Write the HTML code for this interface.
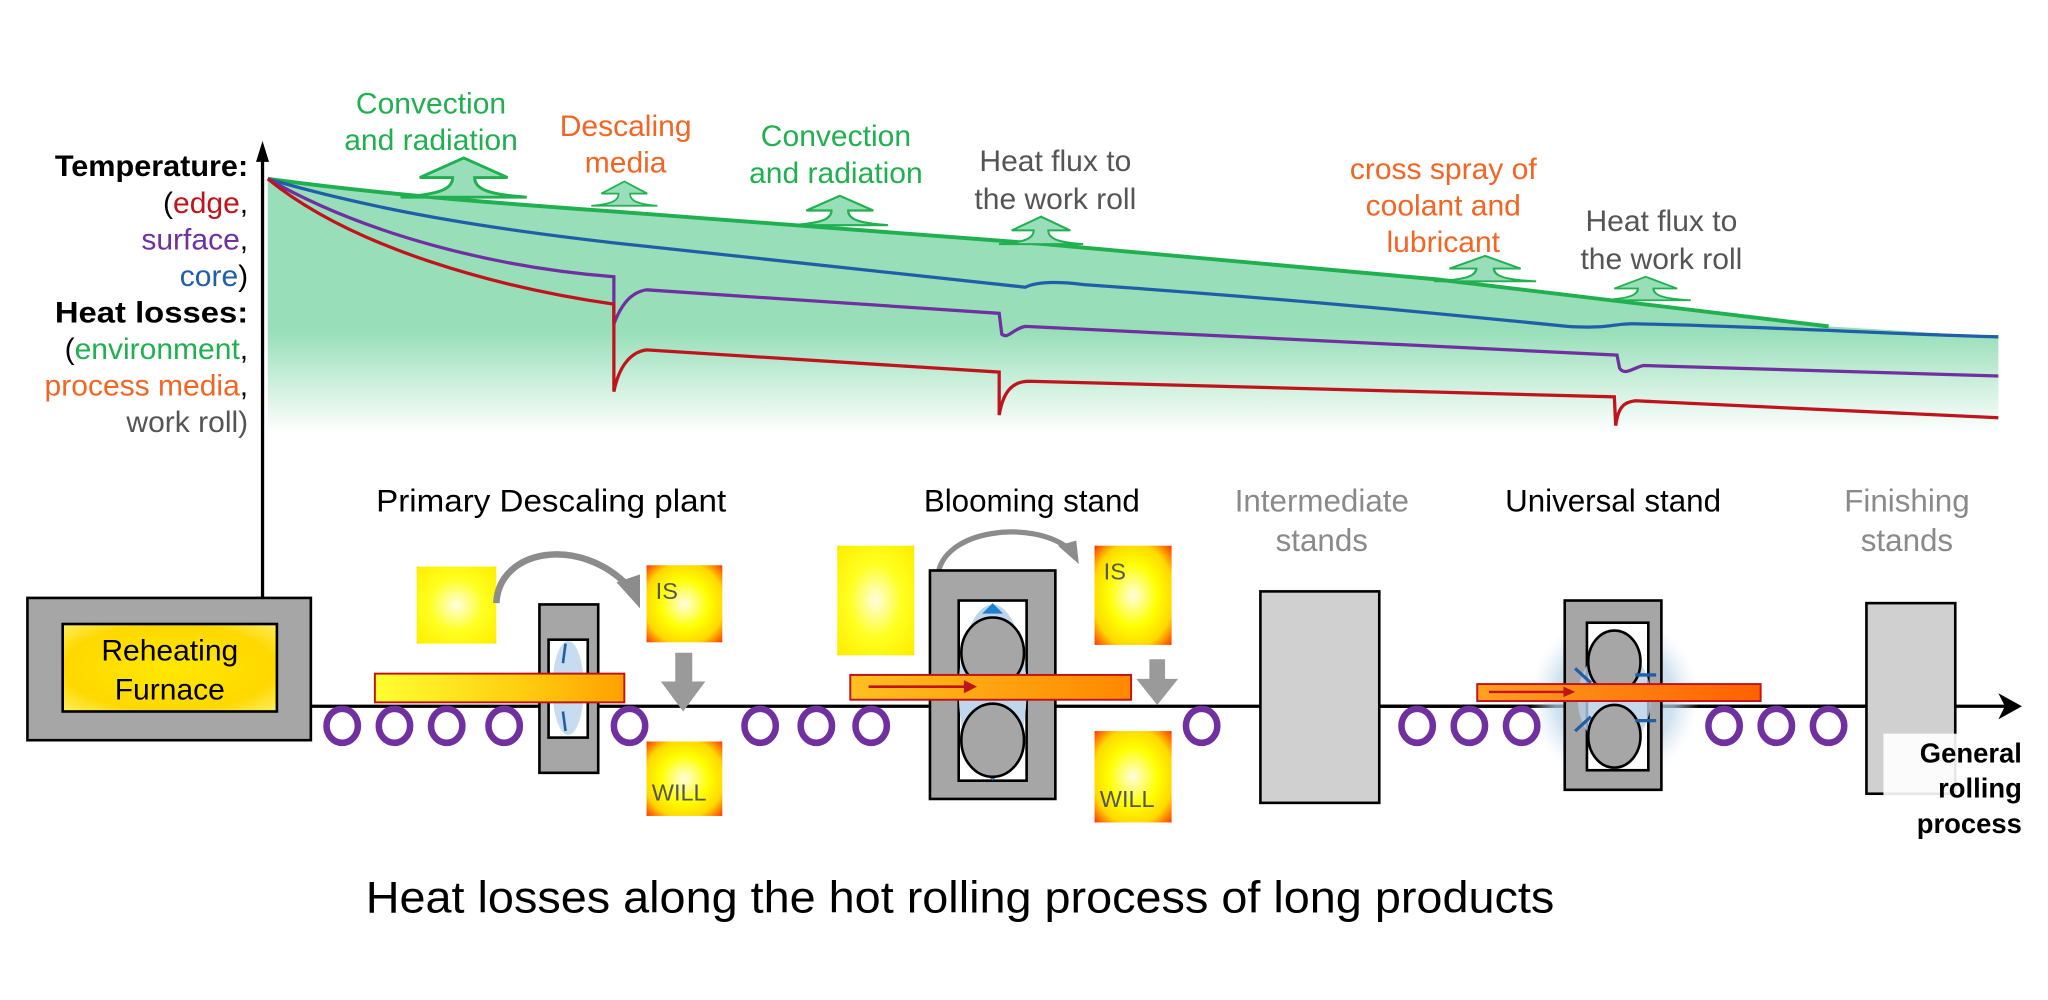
<!DOCTYPE html>
<html><head><meta charset="utf-8"><style>
html,body{margin:0;padding:0;background:#fff;}
svg{display:block;}
text{font-family:"Liberation Sans",Arial,sans-serif;}
</style></head><body>
<svg width="2048" height="1000" viewBox="0 0 1568 766" preserveAspectRatio="none" xmlns="http://www.w3.org/2000/svg">
<defs>
<linearGradient id="gfill" x1="0" y1="137" x2="0" y2="332" gradientUnits="userSpaceOnUse">
<stop offset="0" stop-color="#98dfb9"/><stop offset="0.6" stop-color="#98dfb9"/><stop offset="1" stop-color="#ffffff"/></linearGradient>
<radialGradient id="hot" cx="0.5" cy="0.5" r="0.7"><stop offset="0" stop-color="#fffde0"/><stop offset="0.45" stop-color="#ffff00"/><stop offset="0.75" stop-color="#ffd800"/><stop offset="1" stop-color="#ff3a00"/></radialGradient>
<radialGradient id="warm" cx="0.5" cy="0.5" r="0.75"><stop offset="0" stop-color="#fffde0"/><stop offset="0.45" stop-color="#ffff20"/><stop offset="0.9" stop-color="#ffee00"/><stop offset="1" stop-color="#ffb000"/></radialGradient>
<radialGradient id="furn" cx="0.5" cy="0.5" r="0.7"><stop offset="0" stop-color="#ffe800"/><stop offset="0.7" stop-color="#ffd800"/><stop offset="1" stop-color="#ffee60"/></radialGradient>
<linearGradient id="slab1" x1="0" x2="1"><stop offset="0" stop-color="#ffff30"/><stop offset="0.6" stop-color="#ffcc10"/><stop offset="1" stop-color="#ffa000"/></linearGradient>
<linearGradient id="slab2" x1="0" x2="1"><stop offset="0" stop-color="#ffc020"/><stop offset="1" stop-color="#ff8800"/></linearGradient>
<linearGradient id="slab3" x1="0" x2="1"><stop offset="0" stop-color="#ffa020"/><stop offset="1" stop-color="#ff6000"/></linearGradient>
<radialGradient id="glow"><stop offset="0" stop-color="#9cc4e0" stop-opacity="0.9"/><stop offset="0.7" stop-color="#bcd6ea" stop-opacity="0.7"/><stop offset="1" stop-color="#dfeaf4" stop-opacity="0"/></radialGradient>
<g id="tree"><path d="M0,0 L32,15 L8,15 C8,24 18,28 46,30 L-46,30 C-18,28 -8,24 -8,15 L-32,15 Z" fill="#98dfb9" stroke="#20b050" stroke-width="2.2" stroke-linejoin="miter"/></g>
</defs>

<path d="M205,137 C300,150 400,157 470,162 L800,187 L1100,214 L1400,250 L1530,258 L1530,332 L205,332 Z" fill="url(#gfill)"/>
<path d="M205,137 C300,150 400,157 470,162 L800,187 L1100,214 L1400,250" fill="none" stroke="#20b050" stroke-width="3"/>
<path d="M205,137 C300,165 400,178 470,186 C600,200 700,210 785,220 C795,215 815,216 830,218 C1000,230 1100,240 1200,250 C1230,252 1235,248 1250,248 C1350,250 1450,256 1530,258" fill="none" stroke="#1f5fa8" stroke-width="2.5"/>
<path d="M205,137 C280,180 380,205 470,212 L470,248 C475,235 482,224 495,222 L765,240 L767,256 C772,260 775,252 785,250 L1238,272 L1240,282 C1244,288 1250,282 1258,280 L1530,288" fill="none" stroke="#7030a0" stroke-width="2.5"/>
<path d="M205,137 C270,190 380,220 470,233 L470,300 C473,285 480,270 495,268 L765,285 L765,318 C768,300 775,292 788,292 L1236,304 L1237,326 C1239,312 1243,308 1252,307 L1530,320" fill="none" stroke="#c0141c" stroke-width="2.5"/>

<use href="#tree" transform="translate(355,121) scale(1.05,1)"/>
<use href="#tree" transform="translate(478,139) scale(0.55,0.62)"/>
<use href="#tree" transform="translate(643,150) scale(0.8,0.75)"/>
<use href="#tree" transform="translate(797,166) scale(0.7,0.7)"/>
<use href="#tree" transform="translate(1137,196) scale(0.85,0.65)"/>
<use href="#tree" transform="translate(1260,212) scale(0.75,0.6)"/>

<line x1="201" y1="120" x2="201" y2="458" stroke="#000" stroke-width="2.5"/>
<path d="M201,108 L196,124 L206,124 Z" fill="#000"/>

<g font-size="23" text-anchor="end">
<text x="190" y="135" font-weight="bold" textLength="148" lengthAdjust="spacingAndGlyphs">Temperature:</text>
<text x="190" y="163">(<tspan fill="#c0141c">edge</tspan>,</text>
<text x="190" y="191"><tspan fill="#7030a0">surface</tspan>,</text>
<text x="190" y="219"><tspan fill="#1f5fa8">core</tspan>)</text>
<text x="190" y="247" font-weight="bold" textLength="148" lengthAdjust="spacingAndGlyphs">Heat losses:</text>
<text x="190" y="275">(<tspan fill="#20b050">environment</tspan>,</text>
<text x="190" y="303"><tspan fill="#f26522">process media</tspan>,</text>
<text x="190" y="331" fill="#555">work roll)</text>
</g>

<g font-size="23" text-anchor="middle">
<text x="330" y="87" fill="#20b050">Convection</text>
<text x="330" y="115" fill="#20b050">and radiation</text>
<text x="479" y="104" fill="#f26522">Descaling</text>
<text x="479" y="132" fill="#f26522">media</text>
<text x="640" y="112" fill="#20b050">Convection</text>
<text x="640" y="140" fill="#20b050">and radiation</text>
<text x="808" y="131" fill="#555">Heat flux to</text>
<text x="808" y="160" fill="#555">the work roll</text>
<text x="1105" y="137" fill="#f26522">cross spray of</text>
<text x="1105" y="165" fill="#f26522">coolant and</text>
<text x="1105" y="193" fill="#f26522">lubricant</text>
<text x="1272" y="177" fill="#555">Heat flux to</text>
<text x="1272" y="206" fill="#555">the work roll</text>
</g>

<g font-size="24" text-anchor="middle">
<text x="422" y="392" textLength="268" lengthAdjust="spacingAndGlyphs">Primary Descaling plant</text>
<text x="790" y="392">Blooming stand</text>
<text x="1012" y="392" fill="#8a8a8a">Intermediate</text>
<text x="1012" y="422" fill="#8a8a8a">stands</text>
<text x="1235" y="392">Universal stand</text>
<text x="1460" y="392" fill="#8a8a8a">Finishing</text>
<text x="1460" y="422" fill="#8a8a8a">stands</text>
</g>

<line x1="238" y1="541" x2="1535" y2="541" stroke="#000" stroke-width="2.5"/>
<path d="M1548,541 L1530,531 L1535,541 L1530,551 Z" fill="#000"/>

<rect x="21" y="458" width="217" height="109" fill="#a6a6a6" stroke="#000" stroke-width="2"/>
<rect x="48" y="478" width="164" height="67" fill="url(#furn)" stroke="#000" stroke-width="2"/>
<text x="130" y="506" font-size="23" text-anchor="middle">Reheating</text>
<text x="130" y="536" font-size="23" text-anchor="middle">Furnace</text>

<rect x="965" y="453" width="91" height="162" fill="#d0d0d0" stroke="#000" stroke-width="2"/>
<rect x="1429" y="462" width="68" height="146" fill="#d0d0d0" stroke="#000" stroke-width="2"/>
<line x1="1056" y1="541" x2="1429" y2="541" stroke="#000" stroke-width="2.5"/>

<rect x="319" y="434" width="61" height="59" fill="url(#warm)"/>
<rect x="495" y="433" width="58" height="59" fill="url(#hot)"/>
<text x="502" y="459" font-size="18" fill="#555">IS</text>
<rect x="495" y="568" width="58" height="57" fill="url(#hot)"/>
<text x="499" y="613" font-size="18" fill="#555">WILL</text>
<path d="M380,462 C382,420 445,410 482,450" fill="none" stroke="#8c8c8c" stroke-width="5"/>
<path d="M490,466 L472,446 L490,440 Z" fill="#8c8c8c"/>
<path d="M517,500 L530,500 L530,522 L540,522 L523,545 L506,522 L517,522 Z" fill="#9a9a9a"/>
<rect x="413" y="463" width="45" height="129" fill="#a6a6a6" stroke="#000" stroke-width="2"/>
<rect x="420" y="490" width="30" height="75" fill="#fff" stroke="#000" stroke-width="2"/>
<ellipse cx="435" cy="527" rx="12" ry="36" fill="#c7dcee"/>
<line x1="433" y1="493" x2="431" y2="508" stroke="#1f5fa8" stroke-width="2"/>
<line x1="433" y1="560" x2="431" y2="545" stroke="#1f5fa8" stroke-width="2"/>
<rect x="287" y="516" width="191" height="22" fill="url(#slab1)" stroke="#c0141c" stroke-width="1.5"/>

<rect x="641" y="418" width="59" height="84" fill="url(#warm)"/>
<rect x="838" y="418" width="59" height="76" fill="url(#hot)"/>
<text x="845" y="444" font-size="18" fill="#555">IS</text>
<rect x="838" y="560" width="59" height="70" fill="url(#hot)"/>
<text x="842" y="618" font-size="18" fill="#555">WILL</text>
<path d="M718,441 C722,405 790,398 818,420" fill="none" stroke="#8c8c8c" stroke-width="4"/>
<path d="M826,432 L810,418 L824,414 Z" fill="#8c8c8c"/>
<path d="M880,505 L892,505 L892,520 L902,520 L886,540 L870,520 L880,520 Z" fill="#9a9a9a"/>
<rect x="712" y="437" width="96" height="175" fill="#a6a6a6" stroke="#000" stroke-width="2"/>
<rect x="734" y="460" width="52" height="138" fill="#fff" stroke="#000" stroke-width="2"/>
<ellipse cx="760" cy="529" rx="26" ry="66" fill="#c0d6ea"/>
<path d="M752,470 L760,462 L768,470 Z" fill="#1f7fd0"/>
<path d="M752,590 L760,598 L768,590 Z" fill="#1f7fd0"/>
<ellipse cx="760" cy="500" rx="24" ry="27" fill="#a6a6a6" stroke="#000" stroke-width="2"/>
<ellipse cx="760" cy="567" rx="24" ry="28" fill="#a6a6a6" stroke="#000" stroke-width="2"/>
<rect x="651" y="517" width="215" height="19" fill="url(#slab2)" stroke="#c0141c" stroke-width="1.5"/>
<line x1="665" y1="526" x2="740" y2="526" stroke="#c0141c" stroke-width="2"/>
<path d="M748,526 L738,521 L738,531 Z" fill="#c0141c"/>

<circle cx="1236" cy="535" r="65" fill="url(#glow)"/>
<rect x="1198" y="460" width="74" height="145" fill="#a6a6a6" stroke="#000" stroke-width="2"/>
<rect x="1215" y="477" width="47" height="113" fill="#fff" stroke="#000" stroke-width="2"/>
<ellipse cx="1236" cy="535" rx="28" ry="38" fill="#b8d0e6" opacity="0.8"/>
<ellipse cx="1236" cy="507" rx="20" ry="24" fill="#a6a6a6" stroke="#000" stroke-width="2"/>
<ellipse cx="1236" cy="564" rx="20" ry="24" fill="#a6a6a6" stroke="#000" stroke-width="2"/>
<g stroke="#1f5fa8" stroke-width="2.5" fill="none">
<line x1="1206" y1="512" x2="1218" y2="523"/><line x1="1206" y1="560" x2="1218" y2="549"/>
<line x1="1268" y1="517" x2="1252" y2="517"/><line x1="1268" y1="552" x2="1252" y2="552"/>
</g>
<rect x="1131" y="524" width="217" height="13" fill="url(#slab3)" stroke="#c0141c" stroke-width="1.5"/>
<line x1="1140" y1="530" x2="1200" y2="530" stroke="#c0141c" stroke-width="1.8"/>
<path d="M1206,530 L1197,526 L1197,534 Z" fill="#c0141c"/>

<g fill="none" stroke="#7030a0" stroke-width="5">
<ellipse cx="262" cy="556" rx="12" ry="13"/><ellipse cx="302" cy="556" rx="12" ry="13"/><ellipse cx="342" cy="556" rx="12" ry="13"/><ellipse cx="386" cy="556" rx="12" ry="13"/>
<ellipse cx="482" cy="556" rx="12" ry="13"/>
<ellipse cx="582" cy="556" rx="12" ry="13"/><ellipse cx="625" cy="556" rx="12" ry="13"/><ellipse cx="667" cy="556" rx="12" ry="13"/>
<ellipse cx="920" cy="556" rx="12" ry="13"/>
<ellipse cx="1085" cy="556" rx="12" ry="13"/><ellipse cx="1125" cy="556" rx="12" ry="13"/><ellipse cx="1165" cy="556" rx="12" ry="13"/>
<ellipse cx="1320" cy="556" rx="12" ry="13"/><ellipse cx="1360" cy="556" rx="12" ry="13"/><ellipse cx="1400" cy="556" rx="12" ry="13"/>
</g>

<rect x="1442" y="562" width="106" height="82" fill="#fff" opacity="0.9"/>
<g font-size="21" font-weight="bold" text-anchor="end">
<text x="1548" y="584">General</text>
<text x="1548" y="611">rolling</text>
<text x="1548" y="638">process</text>
</g>

<text x="735" y="699" font-size="34" text-anchor="middle" textLength="910" lengthAdjust="spacingAndGlyphs">Heat losses along the hot rolling process of long products</text>
</svg>
</body></html>
